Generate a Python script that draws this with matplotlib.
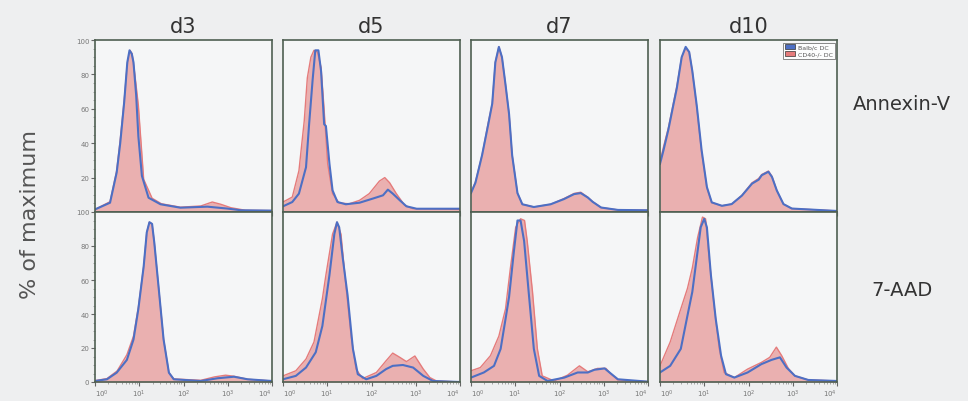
import numpy as np
import matplotlib.pyplot as plt
from matplotlib.patches import Patch
from matplotlib.ticker import FixedLocator, LogLocator, NullFormatter

days = ["d3", "d5", "d7", "d10"]
stains = ["Annexin-V", "7-AAD"]

# x positions in log10 decades, y in % of maximum
# row 0: Annexin-V
d3_ann_blue_x = [0, 0.34, 0.49, 0.57, 0.66, 0.73, 0.78, 0.83, 0.87, 0.93, 0.98, 1.06, 1.21, 1.48, 1.93, 2.54, 2.99, 3.3, 4]
d3_ann_blue_y = [1.5, 5.4, 23, 40, 64, 87, 94, 92, 87, 68, 44, 21, 8.3, 4.5, 2.5, 3.1, 2, 1, 0.8]
d3_ann_red_x = [0, 0.34, 0.49, 0.57, 0.66, 0.73, 0.79, 0.84, 0.9, 0.98, 1.1, 1.29, 1.5, 1.93, 2.39, 2.65, 2.84, 3.07, 3.4, 4]
d3_ann_red_y = [1.5, 6, 24, 42, 65, 86, 94, 92, 80, 62, 19, 8, 4.8, 2.8, 3.5, 5.8, 4.5, 2.5, 1, 0.8]

d5_ann_blue_x = [0, 0.21, 0.36, 0.52, 0.59, 0.67, 0.73, 0.8, 0.86, 0.93, 0.97, 1.05, 1.12, 1.23, 1.42, 1.73, 2.03, 2.26, 2.37, 2.48, 2.64, 2.79, 3.02, 4]
d5_ann_blue_y = [3.3, 5.8, 10.7, 26, 51, 77, 94, 94, 82, 51, 50, 28, 12.6, 5.8, 4.5, 5.4, 7.8, 9.7, 13, 10.7, 6.8, 3.3, 1.9, 1.9]
d5_ann_red_x = [0, 0.21, 0.36, 0.48, 0.55, 0.63, 0.7, 0.78, 0.86, 0.92, 1.01, 1.12, 1.27, 1.5, 1.73, 1.95, 2.18, 2.3, 2.41, 2.56, 2.75, 2.94, 4]
d5_ann_red_y = [5.8, 8.7, 24, 53, 78, 90, 94, 93, 84, 63, 28, 10.7, 5.2, 4.8, 6.8, 10.7, 18, 20, 17, 10.7, 3.9, 1.9, 1.5]

d7_ann_blue_x = [0, 0.1, 0.25, 0.39, 0.48, 0.55, 0.63, 0.7, 0.78, 0.86, 0.93, 1.05, 1.16, 1.42, 1.8, 2.1, 2.33, 2.48, 2.64, 2.75, 2.94, 3.32, 4]
d7_ann_blue_y = [11, 17, 33, 51, 63, 87, 96, 90, 74, 57, 33, 11, 4.5, 2.9, 4.5, 7.5, 10.4, 11, 8.4, 5.9, 2.6, 1.2, 1]
d7_ann_red_x = [0, 0.1, 0.25, 0.39, 0.48, 0.55, 0.63, 0.7, 0.78, 0.86, 0.93, 1.05, 1.16, 1.42, 1.8, 2.1, 2.33, 2.48, 2.64, 2.75, 2.94, 3.32, 4]
d7_ann_red_y = [11.5, 17.5, 33, 52, 63, 87, 96, 90, 74, 57, 33, 11, 4.5, 2.9, 4.5, 7.8, 10.8, 11.5, 8.6, 6, 2.6, 1.2, 1]

d10_ann_blue_x = [0, 0.08, 0.19, 0.3, 0.38, 0.49, 0.58, 0.66, 0.73, 0.83, 0.94, 1.06, 1.17, 1.4, 1.62, 1.85, 2.08, 2.23, 2.3, 2.45, 2.53, 2.64, 2.79, 2.98, 4]
d10_ann_blue_y = [28, 36, 48, 62, 72, 90, 96, 93, 82, 62, 36, 14.5, 5.6, 3.6, 4.6, 9.5, 16.5, 18.8, 21.4, 23.4, 20.4, 12.5, 4.6, 2, 0.6]
d10_ann_red_x = [0, 0.08, 0.19, 0.3, 0.38, 0.49, 0.58, 0.66, 0.73, 0.83, 0.94, 1.06, 1.17, 1.4, 1.62, 1.85, 2.08, 2.23, 2.3, 2.45, 2.53, 2.64, 2.79, 2.98, 4]
d10_ann_red_y = [29, 38, 49, 63, 73, 90, 95, 93, 82, 61, 35, 14, 5.4, 3.6, 4.6, 9.7, 17, 19.5, 21.8, 23.8, 20.8, 12.5, 4.6, 2, 0.6]

# row 1: 7-AAD
d3_aad_blue_x = [0, 0.27, 0.49, 0.72, 0.87, 0.98, 1.1, 1.17, 1.23, 1.29, 1.34, 1.44, 1.55, 1.67, 1.78, 2.39, 2.77, 3.14, 3.45, 4]
d3_aad_blue_y = [0.6, 1.6, 5.5, 13, 25, 43, 68, 88, 94, 93, 82, 55, 25, 5.5, 1.6, 0.6, 2.2, 3.1, 1.6, 0.6]
d3_aad_red_x = [0, 0.27, 0.5, 0.72, 0.87, 0.98, 1.1, 1.17, 1.23, 1.29, 1.34, 1.44, 1.55, 1.67, 1.78, 2.39, 2.7, 2.95, 3.14, 3.45, 4]
d3_aad_red_y = [0.8, 2, 6.5, 16, 27, 44, 68, 88, 94, 93, 82, 55, 25, 5.5, 1.8, 1, 3, 4, 3.4, 1.6, 0.6]

d5_aad_blue_x = [0, 0.29, 0.52, 0.74, 0.89, 1.05, 1.16, 1.22, 1.27, 1.35, 1.46, 1.58, 1.69, 1.88, 2.11, 2.33, 2.48, 2.71, 2.94, 3.17, 3.39, 4]
d5_aad_blue_y = [1.6, 3.6, 8.5, 17.5, 33, 63, 87, 94, 91, 73, 51, 19.5, 4.6, 1.6, 3.6, 7.6, 9.5, 10, 8.5, 3.6, 0.6, 0]
d5_aad_red_x = [0, 0.29, 0.52, 0.7, 0.89, 0.97, 1.12, 1.22, 1.31, 1.42, 1.54, 1.65, 1.8, 2.11, 2.33, 2.48, 2.64, 2.79, 2.98, 3.17, 3.32, 3.47, 4]
d5_aad_red_y = [3.6, 6.6, 13.5, 23.5, 49, 63, 87, 94, 87, 57, 27, 7.6, 2, 5.6, 12.5, 17, 14.5, 12, 15.3, 7.6, 2.6, 0.6, 0]

d7_aad_blue_x = [0, 0.29, 0.52, 0.67, 0.78, 0.86, 0.97, 1.05, 1.12, 1.2, 1.31, 1.42, 1.54, 1.73, 2.11, 2.41, 2.64, 2.79, 3.02, 3.13, 3.32, 4]
d7_aad_blue_y = [2.6, 5.6, 9.5, 19.5, 37, 50, 77, 95, 95, 83, 51, 19.5, 3.6, 0.6, 2.6, 5.6, 5.6, 7.2, 8, 5.6, 1.6, 0.2]
d7_aad_red_x = [0, 0.21, 0.44, 0.63, 0.78, 0.89, 1.01, 1.12, 1.21, 1.27, 1.39, 1.5, 1.61, 1.88, 2.18, 2.45, 2.64, 2.86, 3.05, 3.17, 3.32, 4]
d7_aad_red_y = [6.6, 8.5, 15.5, 27, 43, 67, 91, 96, 95, 83, 53, 19.5, 3.6, 0.6, 4, 9.5, 6, 8, 8, 4.6, 1.2, 0.2]

d10_aad_blue_x = [0, 0.23, 0.47, 0.62, 0.73, 0.85, 0.92, 1.0, 1.06, 1.15, 1.26, 1.38, 1.49, 1.68, 1.98, 2.29, 2.52, 2.71, 2.86, 3.05, 3.35, 4]
d10_aad_blue_y = [5.6, 9.5, 19.5, 39, 53, 77, 91, 96, 91, 63, 37, 15.5, 4.6, 2.6, 5.6, 10.5, 13, 14.5, 8.5, 3.6, 1.2, 0.6]
d10_aad_red_x = [0, 0.23, 0.47, 0.62, 0.73, 0.85, 0.96, 1.03, 1.11, 1.23, 1.34, 1.45, 1.68, 1.98, 2.29, 2.48, 2.63, 2.75, 2.9, 3.05, 3.35, 4]
d10_aad_red_y = [9.5, 23.5, 43, 55, 67, 85, 97, 96, 73, 43, 19.5, 5.6, 2.6, 7.6, 11.5, 14.5, 20.5, 15.5, 8, 3.6, 1.2, 0.6]

blue = [
    [(d3_ann_blue_x, d3_ann_blue_y), (d5_ann_blue_x, d5_ann_blue_y), (d7_ann_blue_x, d7_ann_blue_y), (d10_ann_blue_x, d10_ann_blue_y)],
    [(d3_aad_blue_x, d3_aad_blue_y), (d5_aad_blue_x, d5_aad_blue_y), (d7_aad_blue_x, d7_aad_blue_y), (d10_aad_blue_x, d10_aad_blue_y)],
]
red = [
    [(d3_ann_red_x, d3_ann_red_y), (d5_ann_red_x, d5_ann_red_y), (d7_ann_red_x, d7_ann_red_y), (d10_ann_red_x, d10_ann_red_y)],
    [(d3_aad_red_x, d3_aad_red_y), (d5_aad_red_x, d5_aad_red_y), (d7_aad_red_x, d7_aad_red_y), (d10_aad_red_x, d10_aad_red_y)],
]

W, H = 968, 402
fig = plt.figure(figsize=(W / 100, H / 100), dpi=100, facecolor="#eeeff0")

col_left = [95, 283, 471, 660]
col_w = 177
row_top = [41, 213]
row_bot = [213, 383]

frame_col = "#4f5f52"
blue_col = "#4d6fc4"
red_edge = "#e57b7b"
red_fill = "#eab0b0"

for r in range(2):
    for c in range(4):
        ax = fig.add_axes([col_left[c] / W, 1 - row_bot[r] / H, col_w / W, (row_bot[r] - row_top[r]) / H])
        ax.set_facecolor("#f5f6f7")
        rx, ry = red[r][c]
        bx, by = blue[r][c]
        rx = 10 ** np.array(rx)
        bx = 10 ** np.array(bx)
        ax.fill_between(rx, 0, ry, color=red_fill, lw=0)
        ax.plot(rx, ry, color=red_edge, lw=1.0)
        ax.plot(bx, by, color=blue_col, lw=1.5)
        ax.set_xscale("log")
        ax.set_xlim(1, 1e4)
        ax.set_ylim(0, 100)
        for s in ax.spines.values():
            s.set_color(frame_col)
            s.set_linewidth(1.2)
        ax.xaxis.set_major_locator(FixedLocator([1, 10, 100, 1000, 10000]))
        ax.xaxis.set_minor_locator(LogLocator(base=10, subs=np.arange(2, 10)))
        ax.xaxis.set_minor_formatter(NullFormatter())
        ax.tick_params(axis="x", which="major", length=3, width=0.8, color="#666666", labelsize=5, labelcolor="#777777", pad=1)
        ax.tick_params(axis="x", which="minor", length=1.5, width=0.5, color="#888888")
        ax.tick_params(axis="y", length=3, width=0.8, color="#666666", labelsize=5, labelcolor="#777777", pad=1)
        if r == 1:
            ax.set_xticklabels([r"$10^0$", r"$10^1$", r"$10^2$", r"$10^3$", r"$10^4$"])
            labels = ax.get_xticklabels()
            labels[0].set_horizontalalignment("left")
            labels[-1].set_horizontalalignment("right")
        else:
            ax.set_xticklabels([])
        if c == 0:
            if r == 0:
                ax.set_yticks([20, 40, 60, 80, 100])
            else:
                ax.set_yticks([0, 20, 40, 60, 80, 100])
            ax.yaxis.set_minor_locator(FixedLocator(np.arange(0, 101, 5)))
            ax.tick_params(axis="y", which="minor", length=1.5, width=0.5, color="#888888")
        else:
            ax.set_yticks([])
        if r == 0:
            ax.set_title(days[c], fontsize=15, color="#333333", pad=6)
        if r == 0 and c == 3:
            handles = [Patch(facecolor=blue_col, edgecolor="#333333", lw=0.5),
                       Patch(facecolor=red_edge, edgecolor="#333333", lw=0.5)]
            leg = ax.legend(handles, ["Balb/c DC", "CD40-/- DC"], loc="upper right",
                            fontsize=4.5, frameon=True, fancybox=False, borderpad=0.3,
                            handlelength=1.6, handleheight=0.8, labelspacing=0.2,
                            handletextpad=0.4, borderaxespad=0.4)
            leg.get_frame().set_edgecolor("#555555")
            leg.get_frame().set_linewidth(0.6)
            for t in leg.get_texts():
                t.set_color("#555555")

fig.text(902 / W, 1 - 105 / H, stains[0], fontsize=14, color="#333333", ha="center", va="center")
fig.text(902 / W, 1 - 290 / H, stains[1], fontsize=14, color="#333333", ha="center", va="center")
fig.text(30 / W, 1 - 215 / H, "% of maximum", fontsize=16, color="#555555", rotation=90, ha="center", va="center")

fig.savefig("out.png", dpi=100, facecolor=fig.get_facecolor())
